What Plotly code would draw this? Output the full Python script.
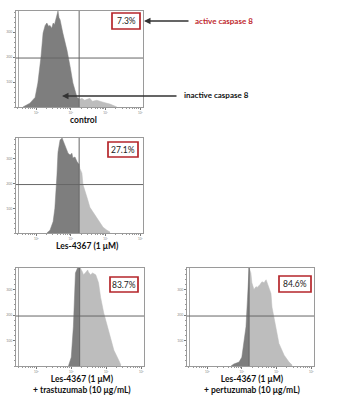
import numpy as np
import plotly.graph_objects as go

W, H = 348, 400

# ---- data (x in log10 fluorescence units, y = normalised count) ----
ctrl_x = [1.62, 1.82, 1.97, 2.05, 2.14, 2.20, 2.26, 2.31, 2.36, 2.40, 2.45, 2.49, 2.53, 2.57, 2.63, 2.66, 2.69, 2.77, 2.89, 2.98, 3.06, 3.18,
          3.26, 3.32, 3.40, 3.47, 3.55, 3.62, 3.75, 3.93, 4.13, 4.33]
ctrl_y = [0.0, 0.04, 0.10, 0.25, 0.52, 0.77, 0.85, 0.875, 0.84, 0.85, 0.82, 0.875, 0.86, 0.91, 1.0, 0.93, 0.91, 0.77, 0.59, 0.42, 0.25, 0.10,
          0.08, 0.09, 0.07, 0.08, 0.09, 0.06, 0.07, 0.05, 0.03, 0.0]

les_x = [2.31, 2.40, 2.49, 2.54, 2.60, 2.63, 2.69, 2.75, 2.77, 2.83, 2.89, 2.92, 2.98, 3.03, 3.06, 3.12, 3.18, 3.24, 3.26, 3.32, 3.35,
         3.47, 3.55, 3.64, 3.75, 3.84, 3.93, 4.04, 4.13]
les_y = [0.0, 0.03, 0.12, 0.26, 0.61, 0.85, 0.98, 1.0, 0.98, 0.93, 0.87, 0.84, 0.82, 0.84, 0.79, 0.80, 0.75, 0.72, 0.68, 0.63, 0.51,
         0.37, 0.27, 0.22, 0.16, 0.11, 0.06, 0.03, 0.01]

tras_x = [2.92, 3.00, 3.06, 3.09, 3.12, 3.18, 3.26, 3.32, 3.35, 3.40, 3.47, 3.49, 3.55, 3.61, 3.70, 3.78, 3.84, 3.93, 4.04, 4.13,
          4.22, 4.33, 4.42]
tras_y = [0.0, 0.09, 0.40, 0.74, 0.95, 1.0, 1.0, 0.96, 0.93, 0.95, 0.98, 0.96, 0.93, 0.95, 0.93, 0.85, 0.70, 0.54, 0.40, 0.27,
          0.16, 0.08, 0.01]

pert_x = [2.69, 2.77, 2.92, 3.00, 3.12, 3.18, 3.21, 3.26, 3.29, 3.35, 3.41, 3.44, 3.52, 3.58, 3.64, 3.70, 3.75, 3.84, 3.87, 3.98,
          4.07, 4.22, 4.36, 4.45]
pert_y = [0.0, 0.02, 0.04, 0.09, 0.40, 0.74, 1.0, 0.95, 0.85, 0.78, 0.81, 0.80, 0.83, 0.86, 0.85, 0.88, 0.83, 0.74, 0.60, 0.40,
          0.23, 0.11, 0.04, 0.01]

percents = ["7.3%", "27.1%", "83.7%", "84.6%"]
gates = [3.24, 3.24, 3.24, 3.21]
hline = 0.51
labels = ["control", "Les-4367 (1 μM)", "Les-4367 (1 μM)<br>+ trastuzumab (10 μg/mL)",
          "Les-4367 (1 μM)<br>+ pertuzumab (10 μg/mL)"]
xtick_vals = [2, 3, 4, 5]
xtick_text = ["10²", "10³", "10⁴", "10⁵"]
ytick_vals = [0.26, 0.52, 0.78]
ytick_text = ["100", "200", "300"]

series = [(ctrl_x, ctrl_y), (les_x, les_y), (tras_x, tras_y), (pert_x, pert_y)]

# ---- layout geometry (pixels) ----
frames = [(16, 143, 11, 107), (16, 143, 138, 233), (16, 144, 268, 366), (187, 314, 268, 366)]
boxes = [(112, 140, 13, 29), (108, 138, 142, 157), (110, 138, 277, 292), (279, 311, 276, 292)]
label_x = [83, 87, 82, 252]

def PX(px):
    return px / W

def PY(py):
    return 1 - py / H

DARK = "#7e7e7e"
LIGHT = "#bdbdbd"
RED = "#b5262b"

fig = go.Figure()
shapes, annotations = [], []
minor_vals = [d + np.log10(k) for d in range(1, 6) for k in range(2, 10)]

for i, ((xs, ys), gate) in enumerate(zip(series, gates)):
    n = i + 1
    xa = "x" if n == 1 else f"x{n}"
    ya = "y" if n == 1 else f"y{n}"
    xs = np.array(xs); ys = np.array(ys)
    gy = float(np.interp(gate, xs, ys))
    lm = xs < gate
    lx = list(xs[lm]) + [gate]; ly = list(ys[lm]) + [gy]
    rx = [gate] + list(xs[~lm]); ry = [gy] + list(ys[~lm])
    fig.add_trace(go.Scatter(x=rx, y=ry, mode="lines", fill="tozeroy", fillcolor=LIGHT,
                             line=dict(color=LIGHT, width=0.5), xaxis=xa, yaxis=ya, showlegend=False,
                             hoverinfo="skip"))
    fig.add_trace(go.Scatter(x=lx, y=ly, mode="lines", fill="tozeroy", fillcolor=DARK,
                             line=dict(color=DARK, width=0.5), xaxis=xa, yaxis=ya, showlegend=False,
                             hoverinfo="skip"))
    x0, x1, y0, y1 = frames[i]
    axkey = "xaxis" if n == 1 else f"xaxis{n}"
    aykey = "yaxis" if n == 1 else f"yaxis{n}"
    fig.update_layout(**{
        axkey: dict(domain=[PX(x0), PX(x1)], anchor=ya, range=[1.42, 5.08], showgrid=False, zeroline=False,
                    showline=True, linecolor="#9a9a9a", linewidth=1, mirror=True,
                    ticks="outside", ticklen=2, tickcolor="#777", tickwidth=0.8,
                    tickvals=xtick_vals, ticktext=xtick_text, ticklabelstandoff=0,
                    tickfont=dict(size=3, color="#888", family="Lato"),
                    minor=dict(tickvals=minor_vals, ticks="outside", ticklen=1, tickcolor="#999")),
        aykey: dict(domain=[PY(y1), PY(y0)], anchor=xa, range=[0, 1.0], showgrid=False, zeroline=False,
                    showline=True, linecolor="#9a9a9a", linewidth=1, mirror=True,
                    ticks="outside", ticklen=2, tickcolor="#777", tickwidth=0.8,
                    tickvals=ytick_vals, ticktext=ytick_text, ticklabelstandoff=0,
                    tickfont=dict(size=3.5, color="#888", family="Lato"),
                    minor=dict(dtick=0.052, ticks="outside", ticklen=1, tickcolor="#999")),
    })
    # second left frame line
    shapes.append(dict(type="line", xref="paper", yref="paper", x0=PX(x0 + 2.5), x1=PX(x0 + 2.5),
                       y0=PY(y1), y1=PY(y0), line=dict(color="#a8a8a8", width=1)))
    # gates
    shapes.append(dict(type="line", xref=xa, yref=f"{ya} domain", x0=gate, x1=gate, y0=0, y1=1,
                       line=dict(color="#666", width=1), layer="above"))
    shapes.append(dict(type="line", xref=f"{xa} domain", yref=ya, x0=0, x1=1, y0=hline, y1=hline,
                       line=dict(color="#666", width=1), layer="above"))
    # percent box
    bx0, bx1, by0, by1 = boxes[i]
    shapes.append(dict(type="rect", xref="paper", yref="paper", x0=PX(bx0), x1=PX(bx1), y0=PY(by1), y1=PY(by0),
                       line=dict(color=RED, width=1.7), fillcolor="white", layer="above"))
    annotations.append(dict(xref="paper", yref="paper", x=PX((bx0 + bx1) / 2), y=PY((by0 + by1) / 2),
                            text=percents[i], showarrow=False, xanchor="center", yanchor="middle",
                            font=dict(size=8.5, color="#222", family="Lato")))
    annotations.append(dict(xref="paper", yref="paper", x=PX(label_x[i]), y=PY(y1 + 6.8),
                            text=f"<b>{labels[i]}</b>", showarrow=False, xanchor="center", yanchor="top",
                            borderpad=0, font=dict(size=8.5, color="#111", family="Lato")))

# callouts
annotations.append(dict(xref="paper", yref="paper", x=PX(144), y=PY(21), ax=46, ay=0, text="",
                        showarrow=True, arrowhead=2, arrowsize=1, arrowwidth=1.3, arrowcolor="#333"))
annotations.append(dict(xref="paper", yref="paper", x=PX(193), y=PY(21), text="<b>active caspase 8</b>",
                        showarrow=False, xanchor="left", yanchor="middle",
                        font=dict(size=8, color="#c0282d", family="Lato")))
annotations.append(dict(xref="paper", yref="paper", x=PX(62), y=PY(96), ax=116, ay=0, text="",
                        showarrow=True, arrowhead=2, arrowsize=1, arrowwidth=1.3, arrowcolor="#333"))
annotations.append(dict(xref="paper", yref="paper", x=PX(182), y=PY(95), text="<b>inactive caspase 8</b>",
                        showarrow=False, xanchor="left", yanchor="middle",
                        font=dict(size=8, color="#111", family="Lato")))

fig.update_layout(width=W, height=H, margin=dict(l=0, r=0, t=0, b=0), paper_bgcolor="white",
                  plot_bgcolor="white", shapes=shapes, annotations=annotations, showlegend=False)
fig.write_html("out.html")
